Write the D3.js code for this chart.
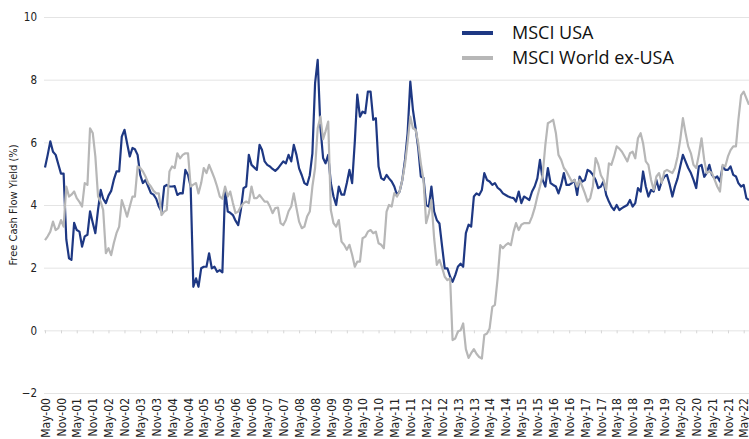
<!DOCTYPE html>
<html>
<head>
<meta charset="utf-8">
<script src="https://cdn.jsdelivr.net/npm/d3@7"></script>
<style>
  body { margin: 0; background: #fff; }
  svg { display: block; }
  .narrow { font-family: "Liberation Sans Narrow", "DejaVu Sans Condensed", "Roboto", sans-serif; font-stretch: condensed; }
</style>
</head>
<body>
<svg width="749" height="439"></svg>
<script>
// monthly free cash flow yield (%), first value = May 2000
const startMonth = "2000-05";

const usaYield = [
  5.2, 5.6, 6.03, 5.7, 5.6, 5.3, 5.0, 5.0, 2.9, 2.3, 2.25, 3.43,
  3.2, 3.15, 2.67, 3.0, 3.05, 3.8, 3.43, 3.1, 3.85, 4.48, 4.2, 4.06,
  4.3, 4.45, 4.8, 5.07, 5.07, 6.18, 6.4, 5.97, 5.55, 5.82, 5.78, 5.6,
  4.96, 4.7, 4.8, 4.59, 4.38, 4.33, 4.2, 3.95, 3.79, 4.59, 4.64, 4.59,
  4.59, 4.6, 4.32, 4.38, 4.37, 5.12, 4.96, 4.59, 1.39, 1.66, 1.39, 1.98,
  2.03, 2.03, 2.46, 1.98, 2.03, 1.87, 1.92, 1.85, 4.5, 3.79, 3.75, 3.68,
  3.5, 3.36, 3.84, 4.54, 4.59, 5.6, 5.28, 5.2, 5.12, 5.92, 5.76, 5.39,
  5.28, 5.23, 5.15, 5.09, 5.17, 5.28, 5.39, 5.33, 5.6, 5.39, 5.92, 5.6,
  5.17, 4.95, 4.7, 4.64, 4.95, 5.65, 7.89, 8.63, 6.5, 5.5, 5.33, 5.6,
  4.7, 4.27, 4.0, 4.59, 4.33, 4.33, 4.7, 5.12, 4.7, 6.03, 7.52, 6.82,
  6.98, 6.93, 7.62, 7.62, 6.72, 6.77, 5.23, 4.86, 4.8, 4.96, 4.85, 4.75,
  4.59, 4.32, 4.43, 4.8, 5.44, 6.29, 7.94, 7.04, 6.45, 5.8, 4.91, 4.86,
  4.0, 3.95, 4.59, 3.79, 3.52, 3.41, 2.67, 1.98, 1.98, 1.71, 1.55, 1.76,
  2.03, 2.13, 2.03, 3.1, 3.37, 3.31, 4.27, 4.37, 4.32, 4.48, 5.02, 4.8,
  4.75, 4.64, 4.7, 4.55, 4.48, 4.37, 4.32, 4.27, 4.24, 4.22, 4.11, 4.43,
  4.06, 4.27, 4.22, 4.16, 4.43, 4.59, 4.85, 5.44, 4.8, 4.59, 5.18, 4.7,
  4.64, 4.59, 4.37, 4.64, 5.02, 4.64, 4.64, 4.7, 4.8, 4.32, 4.91, 4.75,
  4.8, 5.12, 5.07, 4.96, 4.8, 4.54, 4.59, 4.75, 4.32, 4.11, 3.95, 3.84,
  4.0, 3.84, 3.9, 3.95, 4.0, 4.16, 3.95, 4.06, 4.54, 4.43, 5.07, 4.59,
  4.27, 4.48, 4.43, 4.8, 4.48, 4.75, 4.91, 4.96, 4.65, 4.27, 4.59, 4.85,
  5.23, 5.6, 5.39, 5.18, 5.02, 4.8, 4.54, 5.23, 5.28, 4.9, 5.02, 5.28,
  4.96, 4.85, 4.91, 4.75, 5.23, 5.12, 5.12, 5.23, 4.96, 4.91, 4.7, 4.59,
  4.64, 4.22, 4.16
];

const worldExUsaYield = [
  2.88, 3.0, 3.15, 3.47, 3.2, 3.26, 3.52, 3.31, 4.59, 4.27, 4.33, 4.43,
  4.22, 4.1, 3.95, 4.7, 4.64, 6.45, 6.3, 5.55, 4.27, 4.1, 3.84, 2.46,
  2.62, 2.4, 2.78, 3.1, 3.31, 4.16, 3.9, 3.63, 3.95, 4.27, 4.27, 5.23,
  5.18, 5.07, 4.91, 4.7, 4.59, 4.45, 4.37, 4.37, 3.68, 3.79, 3.84, 5.07,
  5.23, 5.18, 5.65, 5.49, 5.6, 5.65, 5.65, 4.59, 4.65, 4.7, 4.37, 4.7,
  5.18, 5.02, 5.28, 5.07, 4.85, 4.59, 4.27, 4.2, 4.59, 4.27, 4.43, 4.06,
  3.74, 3.79, 3.95, 4.06, 4.11, 4.06, 4.59, 4.22, 4.22, 4.32, 4.22, 4.11,
  4.11, 3.95, 3.74, 3.9, 3.92, 3.42, 3.36, 3.52, 3.8, 3.95, 4.37, 3.9,
  3.47, 3.26, 3.31, 3.63, 3.79, 4.59, 5.18, 6.45, 6.82, 6.1, 6.35, 6.66,
  3.84, 3.42, 3.31, 3.52, 2.83, 2.73, 2.57, 2.73, 2.41, 2.03, 2.19, 2.19,
  2.94, 2.99, 3.15, 3.2, 3.1, 3.15, 2.78, 2.73, 2.62, 3.79, 4.0, 3.95,
  4.38, 4.27, 4.43, 4.8, 5.3, 6.0, 6.82, 6.45, 6.4, 5.97, 5.33, 4.8,
  3.42, 3.73, 4.16, 2.94, 2.09, 2.25, 2.0, 1.71, 1.6, 1.66, -0.31, -0.26,
  -0.04, 0.0, 0.22, -0.6, -0.88, -0.73, -0.6, -0.75, -0.85, -0.9, -0.15, -0.1,
  0.06, 0.75, 0.81, 1.66, 2.72, 2.62, 2.72, 2.78, 2.72, 3.15, 3.42, 3.2,
  3.37, 3.42, 3.42, 3.42, 3.63, 3.9, 4.27, 4.59, 4.96, 5.92, 6.61, 6.66,
  6.72, 6.3, 5.6, 5.44, 5.18, 5.07, 4.91, 4.75, 4.8, 4.59, 4.8, 4.59,
  4.37, 4.11, 4.22, 4.6, 5.5, 5.3, 4.95, 4.8, 4.48, 5.33, 5.28, 5.55,
  5.87, 5.8, 5.7, 5.55, 5.39, 5.65, 5.7, 5.49, 6.13, 6.29, 5.97, 5.39,
  5.28, 4.8, 4.48, 4.91, 5.02, 4.7, 5.07, 5.12, 5.07, 5.02, 5.18, 5.55,
  6.08, 6.77, 6.3, 5.87, 5.65, 5.28, 5.18, 5.6, 6.13, 5.44, 5.02, 5.07,
  5.02, 4.8, 4.59, 4.43, 5.28, 5.23, 5.55, 5.75, 5.87, 5.87, 6.72, 7.5,
  7.62, 7.4, 7.2
];

const yTicks = [-2, 0, 2, 4, 6, 8, 10];
const seriesNames = ["MSCI USA", "MSCI World ex-USA"];
const seriesColors = ["#1e3883", "#b7b7b7"];
const yTitle = "Free Cash Flow Yield (%)";

const svg = d3.select("svg"),
  width = +svg.attr("width"),
  height = +svg.attr("height");

const margin = {top: 17, right: 0, bottom: 46, left: 45};

const start = d3.timeParse("%Y-%m")(startMonth);
const toRows = vals => vals.map((v, i) => ({date: d3.timeMonth.offset(start, i), value: v}));
const series = [toRows(usaYield), toRows(worldExUsaYield)];
const last = d3.timeMonth.offset(start, usaYield.length - 1);

const x = d3.scaleTime()
  .domain([start, last])
  .range([margin.left, width - margin.right]);

const y = d3.scaleLinear()
  .domain([-2, 10])
  .range([height - margin.bottom, margin.top]);

// gridlines + y labels
const yAxis = svg.append("g")
  .attr("transform", `translate(${margin.left - 1},0)`)
  .call(d3.axisLeft(y).tickValues(yTicks).tickSize(-(width - margin.left + 1)).tickPadding(7));
yAxis.select(".domain").remove();
yAxis.selectAll(".tick line").attr("stroke", "#e4e4e4");
yAxis.selectAll(".tick text")
  .attr("class", "narrow")
  .attr("fill", "#222")
  .style("font-size", "11.5px");

// y title
svg.append("text")
  .attr("class", "narrow")
  .attr("transform", `translate(17,${(y(10) + y(-2)) / 2}) rotate(-90)`)
  .attr("text-anchor", "middle")
  .attr("fill", "#222")
  .style("font-size", "11px")
  .text(yTitle);

// every six months from May-00 (May / Nov)
const halfYears = d3.range(0, usaYield.length, 6).map(i => d3.timeMonth.offset(start, i));

// small ticks on the zero line
const zeroAxis = svg.append("g")
  .attr("transform", `translate(0,${y(0)})`)
  .call(d3.axisBottom(x).tickValues(halfYears).tickSize(3).tickFormat(""));
zeroAxis.select(".domain").remove();
zeroAxis.selectAll(".tick line").attr("stroke", "#d6d6d6");

// month labels at the bottom
const xAxis = svg.append("g")
  .attr("transform", `translate(0,${y(-2)})`)
  .call(d3.axisBottom(x).tickValues(halfYears).tickSize(0).tickFormat(d3.timeFormat("%b-%y")));
xAxis.select(".domain").remove();
xAxis.selectAll(".tick text")
  .attr("class", "narrow")
  .attr("transform", "rotate(-90)")
  .attr("x", -5)
  .attr("y", 0)
  .attr("dy", "0.35em")
  .attr("fill", "#222")
  .style("text-anchor", "end")
  .style("font-size", "12px");

// lines
const line = d3.line()
  .x(d => x(d.date))
  .y(d => y(d.value));

svg.append("g")
  .selectAll("path")
  .data(series)
  .join("path")
    .attr("fill", "none")
    .attr("stroke", (d, i) => seriesColors[i])
    .attr("stroke-width", 2.2)
    .attr("stroke-linejoin", "round")
    .attr("d", line);

// legend
const legend = svg.append("g")
  .attr("transform", "translate(462,33)");

seriesNames.forEach(function(name, i) {
  const item = legend.append("g")
    .attr("transform", `translate(0,${i * 25})`);
  item.append("line")
    .attr("x1", 0)
    .attr("x2", 31)
    .attr("stroke", seriesColors[i])
    .attr("stroke-width", 4);
  item.append("text")
    .attr("x", 50)
    .attr("y", 6)
    .attr("fill", "#111")
    .style("font-family", "'Open Sans', sans-serif")
    .style("font-size", "18px")
    .text(name);
});
</script>
</body>
</html>
